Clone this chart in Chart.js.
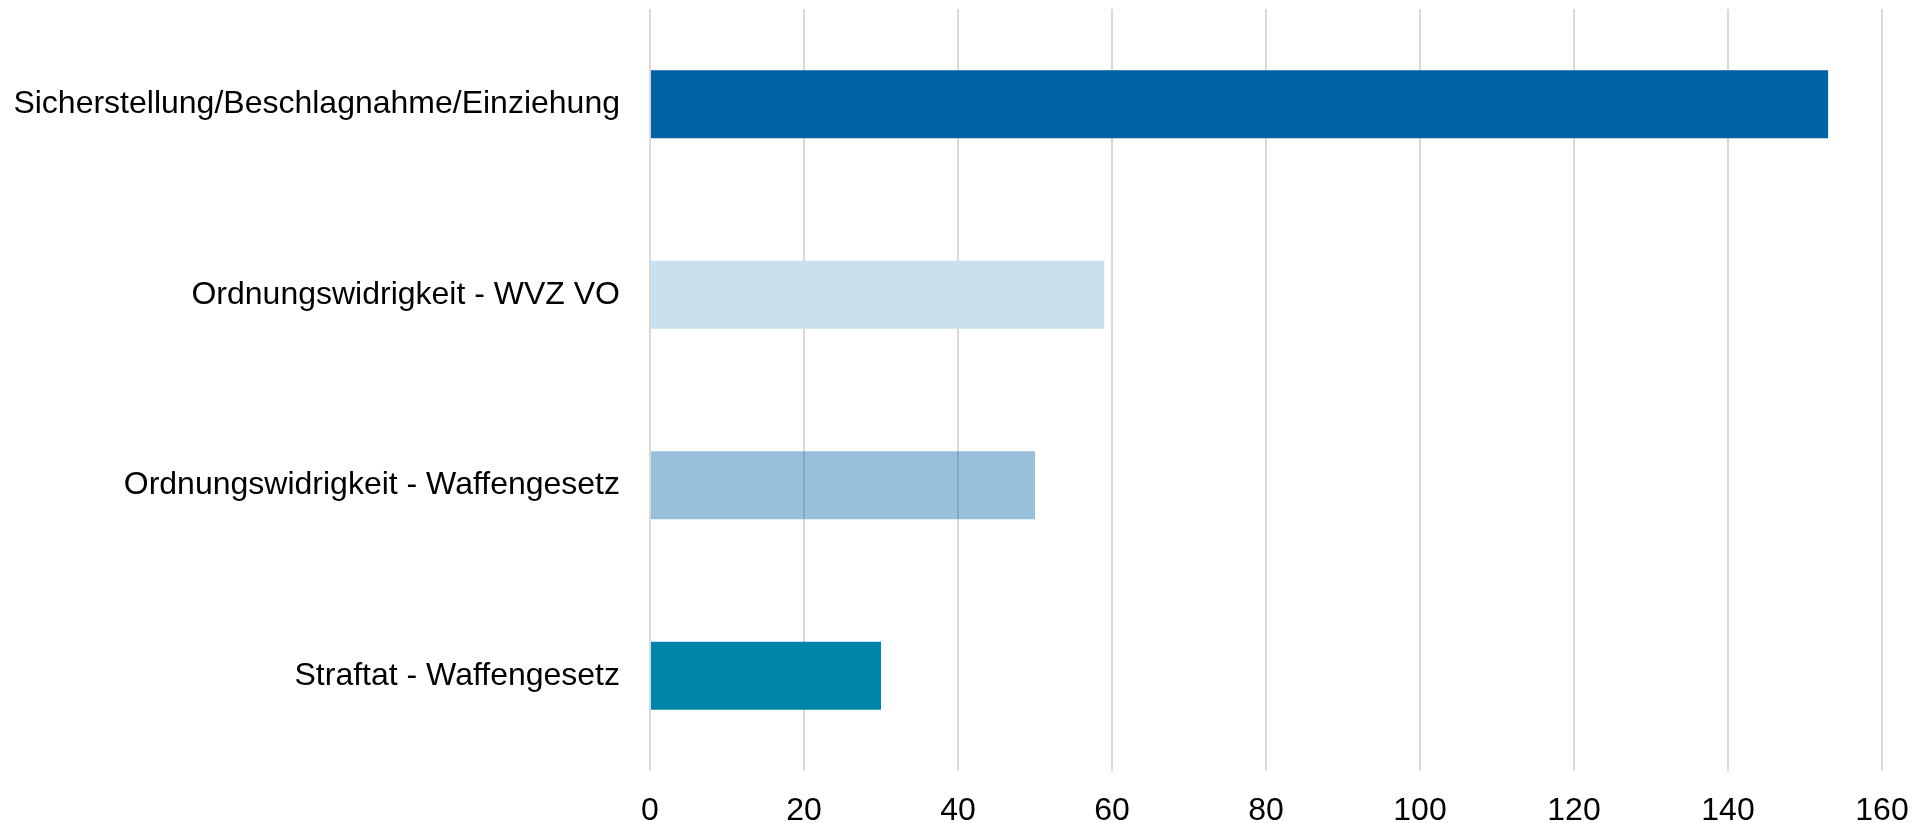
<!DOCTYPE html>
<html lang="de">
<head>
    <meta charset="UTF-8">
    <title>Waffen</title>
    <script src="https://cdn.jsdelivr.net/npm/chart.js@4.4.1/dist/chart.umd.min.js"></script>
    <style>
        html, body {
            margin: 0;
            padding: 0;
            background: #fff;
        }
        .wrap {
            width: 1913px;
            height: 823px;
        }
    </style>
</head>
<body>
    <div class="wrap"><canvas id="chart"></canvas></div>

    <script>
        // Daten
        const categories = [
            'Sicherstellung/Beschlagnahme/Einziehung',
            'Ordnungswidrigkeit - WVZ VO',
            'Ordnungswidrigkeit - Waffengesetz',
            'Straftat - Waffengesetz'
        ];
        const values = [153, 59, 50, 30];
        const barColors = [
            '#0061a5',
            '#c9e0ee',
            'rgba(0, 97, 165, 0.4)',
            '#0085aa'
        ];
        const xTicks = [0, 20, 40, 60, 80, 100, 120, 140, 160];

        const ctx = document.getElementById('chart').getContext('2d');
        new Chart(ctx, {
            type: 'bar',
            data: {
                labels: categories,
                datasets: [{
                    data: values,
                    backgroundColor: barColors,
                    borderWidth: 0,
                    barPercentage: 0.357,
                    categoryPercentage: 1
                }]
            },
            options: {
                indexAxis: 'y',
                responsive: true,
                maintainAspectRatio: false,
                animation: false,
                layout: {
                    padding: { top: 9, right: 31, bottom: 0, left: 0 }
                },
                plugins: {
                    legend: { display: false },
                    tooltip: { enabled: false }
                },
                scales: {
                    x: {
                        min: xTicks[0],
                        max: xTicks[xTicks.length - 1],
                        afterBuildTicks: axis => {
                            axis.ticks = xTicks.map(v => ({ value: v }));
                        },
                        afterFit: axis => {
                            axis.height = 52;
                            axis.paddingLeft = 0;
                            axis.paddingRight = 0;
                        },
                        grid: {
                            color: '#d9d9d9',
                            lineWidth: 2,
                            drawTicks: false
                        },
                        border: { display: false },
                        ticks: {
                            color: '#000',
                            padding: 21,
                            maxRotation: 0,
                            font: { family: '"Liberation Sans", Arial, sans-serif', size: 32 }
                        }
                    },
                    y: {
                        afterFit: axis => {
                            axis.width = 650;
                            axis.paddingTop = 0;
                            axis.paddingBottom = 0;
                        },
                        grid: { display: false, drawTicks: false },
                        border: { display: false },
                        ticks: {
                            color: '#000',
                            padding: 30,
                            font: { family: '"Liberation Sans", Arial, sans-serif', size: 32 }
                        }
                    }
                }
            }
        });
    </script>
</body>
</html>
